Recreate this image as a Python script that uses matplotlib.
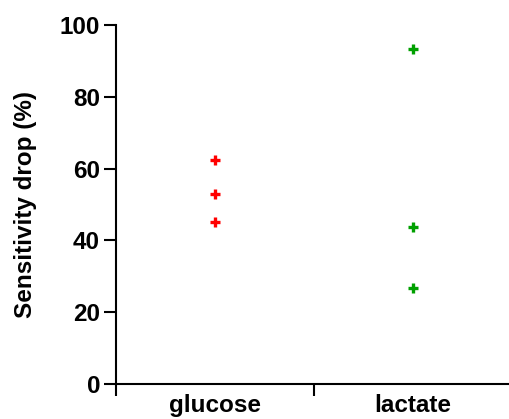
import matplotlib
matplotlib.use("Agg")
import matplotlib.pyplot as plt

categories = ["glucose", "lactate"]
glucose_vals = [62.5, 52.8, 45.1]
lactate_vals = [93.4, 43.8, 26.8]
yticks = [0, 20, 40, 60, 80, 100]

plt.rcParams['font.family'] = ['Liberation Sans', 'DejaVu Sans']
plt.rcParams['font.weight'] = 'bold'

fig = plt.figure(figsize=(5.10, 4.19), dpi=100)
W, H = 510, 419
left, right = 116, 512
top, bottom = 25, 384
ax = fig.add_axes([left / W, 1 - bottom / H, (right - left) / W, (bottom - top) / H])

ax.plot([0] * len(glucose_vals), glucose_vals, linestyle='none', marker='+',
        markersize=6.5, markeredgewidth=2.4, color='#ff0000')
ax.plot([1] * len(lactate_vals), lactate_vals, linestyle='none', marker='+',
        markersize=6.5, markeredgewidth=2.4, color='#00a000')

ax.set_xlim(-0.5, 1.5)
ax.set_ylim(0, 100)
ax.set_yticks(yticks)
ax.set_yticklabels([str(v) for v in yticks], fontsize=17.5, fontweight='bold')
ax.set_xticks([0, 1])
ax.set_xticklabels(categories, fontsize=17.5, fontweight='bold')
ax.tick_params(axis='x', length=0, pad=7.5)
ax.set_xticks([-0.5, 0.5, 1.5], minor=True)
ax.tick_params(axis='x', which='minor', length=8.5, width=1.5, direction='out')
ax.tick_params(axis='y', length=8.5, width=1.5, direction='out', pad=3)

for s in ['top', 'right']:
    ax.spines[s].set_visible(False)
for s in ['left', 'bottom']:
    ax.spines[s].set_linewidth(1.5)

ax.set_ylabel("Sensitivity drop (%)", fontsize=17.5, fontweight='bold', labelpad=16)

fig.savefig("out.png", dpi=100)
